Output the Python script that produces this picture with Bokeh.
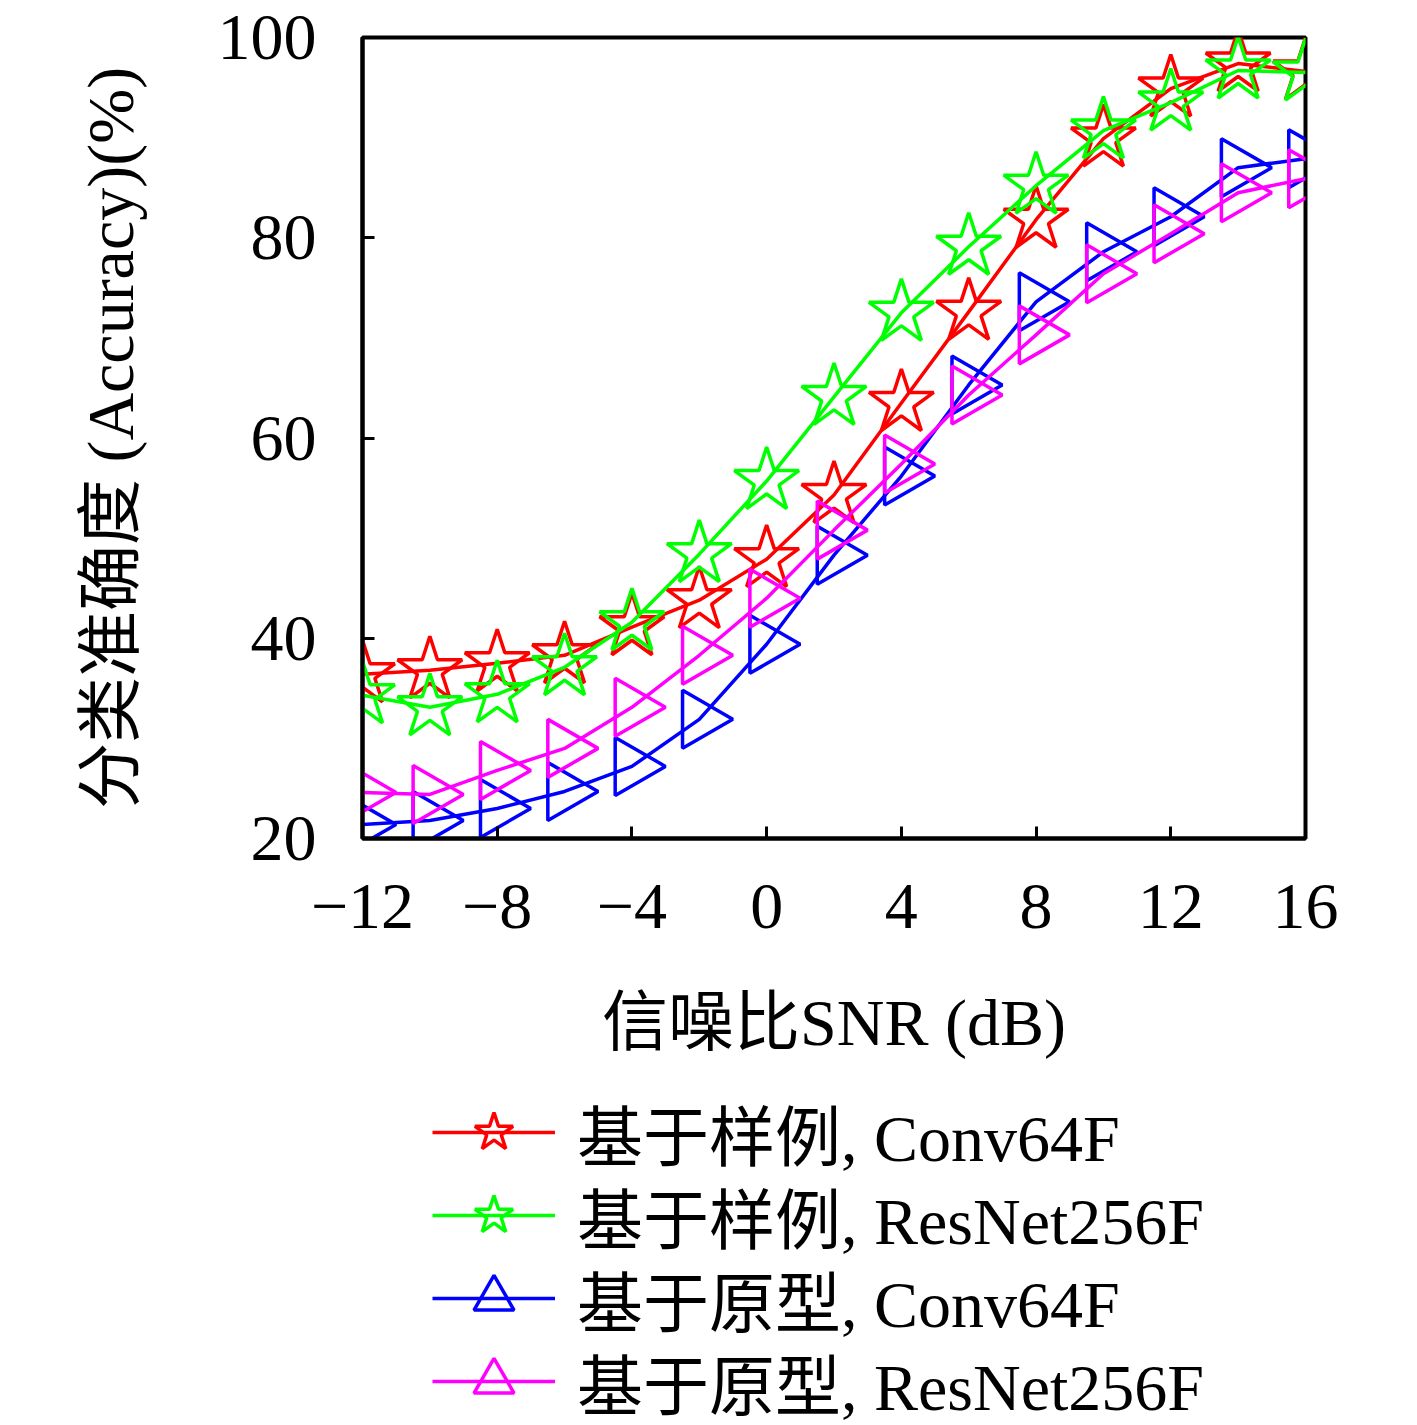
import numpy as np
from bokeh.plotting import figure
from bokeh.layouts import column
from bokeh.models import Range1d, FixedTicker, Legend, LegendItem
from bokeh.embed import file_html
from bokeh.resources import INLINE

snr = [-12, -10, -8, -6, -4, -2, 0, 2, 4, 6, 8, 10, 12, 14, 16]
acc_sample_conv64f = [36.4, 36.8, 37.5, 38.3, 41.1, 43.8, 47.9, 54.3, 63.5, 72.6, 81.8, 89.9, 94.9, 97.4, 96.6]
acc_sample_resnet256f = [34.3, 33.1, 34.4, 37.1, 41.6, 48.4, 55.7, 64.1, 72.5, 79.1, 85.2, 90.7, 93.5, 96.7, 96.5]
acc_proto_conv64f = [21.4, 21.8, 23.0, 24.7, 27.2, 31.9, 39.4, 48.3, 56.2, 65.3, 73.6, 78.6, 82.1, 87.0, 87.9]
acc_proto_resnet256f = [24.6, 24.4, 26.8, 29.0, 33.1, 38.3, 44.0, 50.8, 57.4, 64.3, 70.3, 76.4, 80.4, 84.5, 85.9]

labels = ["基于样例, Conv64F", "基于样例, ResNet256F", "基于原型, Conv64F", "基于原型, ResNet256F"]
x_ticks = [-12, -8, -4, 0, 4, 8, 12, 16]
y_ticks = [20, 40, 60, 80, 100]

FONT = "'Liberation Serif', 'Noto Sans CJK SC'"

p = figure(width=1417, height=1100, output_backend="svg", toolbar_location=None,
           x_range=Range1d(-12, 16), y_range=Range1d(20, 100),
           min_border_left=362, min_border_top=37, min_border_right=112, min_border_bottom=262)
p.background_fill_color = "white"
p.border_fill_color = "white"
p.grid.visible = False
p.outline_line_color = "black"
p.outline_line_width = 4

for ax in (p.xaxis[0], p.yaxis[0]):
    ax.axis_line_width = 4
    ax.axis_line_color = "black"
    ax.major_tick_in = 12
    ax.major_tick_out = 0
    ax.major_tick_line_width = 3
    ax.minor_tick_line_color = None
    ax.major_label_text_font = FONT
    ax.major_label_text_font_size = "66px"
    ax.major_label_text_color = "black"
    ax.axis_label_text_font = FONT
    ax.axis_label_text_font_size = "66px"
    ax.axis_label_text_font_style = "normal"
    ax.axis_label_text_color = "black"

p.xaxis.ticker = FixedTicker(ticks=x_ticks)
p.yaxis.ticker = FixedTicker(ticks=y_ticks)
p.xaxis.major_label_overrides = {t: (str(t).replace("-", "\u2212")) for t in x_ticks}
p.xaxis.major_label_standoff = 46
p.yaxis.major_label_standoff = 46
p.xaxis.axis_label = "信噪比SNR (dB)"
p.yaxis.axis_label = "分类准确度 (Accuracy)(%)"
p.xaxis.axis_label_standoff = 55
p.yaxis.axis_label_standoff = 68

series = [
    (acc_sample_conv64f, "#ff0000", "star", 0.0, 68),
    (acc_sample_resnet256f, "#00ff00", "star", 0.0, 68),
    (acc_proto_conv64f, "#0000ff", "triangle", -np.pi / 2, 58),
    (acc_proto_resnet256f, "#ff00ff", "triangle", -np.pi / 2, 58),
]

for (vals, color, marker, ang, size) in series:
    p.line(snr, vals, line_color=color, line_width=3.5)
    p.scatter(snr, vals, marker=marker, angle=ang, size=size,
              line_color=color, line_width=3.5, fill_color=None)

# legend panel below the chart (its glyphs lie outside its own ranges, only the legend shows)
q = figure(width=1417, height=325, output_backend="svg", toolbar_location=None,
           x_range=Range1d(100, 101), y_range=Range1d(200, 201),
           min_border_left=362, min_border_right=112, min_border_top=0, min_border_bottom=0)
q.axis.visible = False
q.grid.visible = False
q.outline_line_color = None
q.background_fill_color = "white"
q.border_fill_color = "white"

row_offsets = [243, 160, 77, -6]  # legend row positions (screen px from panel bottom)
for (vals, color, marker, ang, size), lab, yoff in zip(series, labels, row_offsets):
    ln = q.line(snr, vals, line_color=color, line_width=3.5)
    sc = q.scatter(snr, vals, marker=marker, angle=ang, size=size,
                   line_color=color, line_width=3.5, fill_color=None)
    lg = Legend(items=[LegendItem(label=lab, renderers=[ln, sc])],
                location=(70, yoff), orientation="vertical",
                border_line_color=None, background_fill_alpha=0,
                label_text_font=FONT, label_text_font_size="66px",
                label_text_color="black",
                glyph_width=123, glyph_height=100, label_height=100,
                label_standoff=22, spacing=0, padding=0, margin=0)
    q.add_layout(lg, "center")

open("out.html", "w").write(file_html(column(p, q, spacing=0), INLINE))
